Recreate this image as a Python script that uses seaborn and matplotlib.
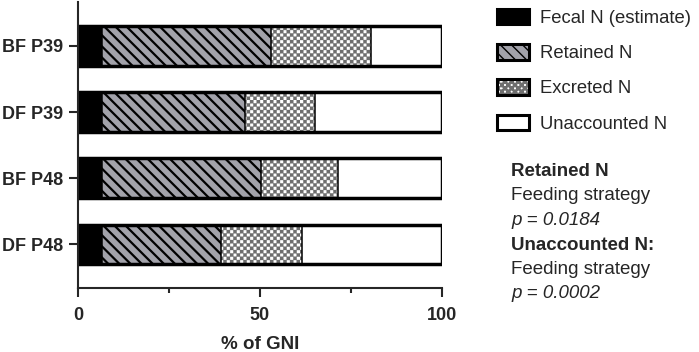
import warnings
import numpy as np
import matplotlib
matplotlib.use("Agg")
import matplotlib.pyplot as plt
import matplotlib.hatch as mhatch
from matplotlib.patches import Patch
from matplotlib.path import Path
import seaborn as sns

warnings.filterwarnings("ignore")

# Nitrogen balance per group, % of GNI
groups = ["BF P39", "DF P39", "BF P48", "DF P48"]
fecal = [6.7, 6.7, 6.7, 6.7]
retained = [46.4, 39.1, 43.5, 32.7]
excreted = [27.3, 19.2, 21.2, 22.2]
unaccounted = [19.6, 35.0, 28.6, 38.4]
segment_names = ["Fecal N (estimate)", "Retained N", "Excreted N", "Unaccounted N"]
x_ticks = [0, 50, 100]
x_minor = [25, 75]

stats_lines = [
    ("Retained N", "bold", "normal"),
    ("Feeding strategy", "normal", "normal"),
    ("p = 0.0184", "normal", "italic"),
    ("Unaccounted N:", "bold", "normal"),
    ("Feeding strategy", "normal", "normal"),
    ("p = 0.0002", "normal", "italic"),
]


class CheckerHatch(mhatch.HatchPatternBase):
    """Checkerboard hatch, selected with 'c' in the hatch string."""

    def __init__(self, hatch, density):
        self.n = hatch.count("c") * density
        if self.n % 2:
            self.n += 1
        self.num_vertices = (self.n * self.n // 2) * 5

    def set_vertices_and_codes(self, vertices, codes):
        step = 1.0 / self.n
        k = 0
        for i in range(self.n):
            for j in range(self.n):
                if (i + j) % 2:
                    continue
                x0, y0 = i * step, j * step
                vertices[k:k + 5] = [(x0, y0), (x0 + step, y0), (x0 + step, y0 + step),
                                     (x0, y0 + step), (x0, y0)]
                codes[k:k + 5] = [Path.MOVETO, Path.LINETO, Path.LINETO,
                                  Path.LINETO, Path.CLOSEPOLY]
                k += 5


mhatch._hatch_types.append(CheckerHatch)

sns.set_style("ticks")
plt.rcParams["font.family"] = ["Liberation Sans", "DejaVu Sans"]
plt.rcParams["font.size"] = 13

# fill style per segment: face, hatch colour, hatch, hatch linewidth
styles = {
    "Fecal N (estimate)": ("black", "black", None, 1.0),
    "Retained N": ("#a2a2aa", "black", "\\\\\\", 1.6),
    "Excreted N": ("white", "#6e6e6e", "ccccc", 0.2),
    "Unaccounted N": ("white", "white", None, 1.0),
}


def set_hatch_lw(patches, lw):
    for p in patches:
        if hasattr(p, "set_hatch_linewidth"):
            p.set_hatch_linewidth(lw)


fig = plt.figure(figsize=(6.99, 3.52), dpi=100)
ax = fig.add_axes([78 / 699, 64 / 352, 364 / 699, 286 / 352])

segments = np.array([fecal, retained, excreted, unaccounted])
cum = np.cumsum(segments, axis=0)
bar_w = 0.6

# fills, widest first so the shorter cumulative bars sit on top
for k in range(3, -1, -1):
    face, hcol, hatch, hlw = styles[segment_names[k]]
    n0 = len(ax.patches)
    sns.barplot(x=cum[k], y=groups, orient="h", color=face, saturation=1,
                edgecolor=hcol, linewidth=0, hatch=hatch, width=bar_w, ax=ax)
    set_hatch_lw(ax.patches[n0:], hlw)

# segment boundaries and outer frame
for k in range(3):
    sns.barplot(x=cum[k], y=groups, orient="h", fill=False, color="black",
                linewidth=1.1, width=bar_w, ax=ax)
sns.barplot(x=cum[3], y=groups, orient="h", fill=False, color="black",
            linewidth=2.5, width=bar_w, ax=ax)

ax.set_xlim(0, 100)
ax.set_ylim(3.66, -0.665)
ax.set_xticks(x_ticks)
ax.set_xticks(x_minor, minor=True)
ax.set_xlabel("% of GNI", fontweight="bold", fontsize=13.5, labelpad=8)
ax.set_ylabel("")
for lab in ax.get_xticklabels() + ax.get_yticklabels():
    lab.set_fontweight("bold")
ax.tick_params(axis="both", which="major", length=6.5, width=1.5, labelsize=13)
ax.tick_params(axis="x", which="major", pad=7.5)
ax.tick_params(axis="y", which="major", pad=4.5)
ax.tick_params(axis="x", which="minor", length=3.5, width=1.5)
sns.despine(ax=ax)
for side in ["left", "bottom"]:
    ax.spines[side].set_linewidth(1.5)

# legend
handles = []
for name in segment_names:
    face, hcol, hatch, hlw = styles[name]
    fill_patch = Patch(facecolor=face, edgecolor=hcol, linewidth=0, hatch=hatch)
    set_hatch_lw([fill_patch], hlw)
    frame = Patch(facecolor="none", edgecolor="black", linewidth=2.2)
    handles.append((fill_patch, frame))
fig.legend(handles, segment_names, loc="upper left", bbox_to_anchor=(497 / 699, 1 - 9 / 352),
           frameon=False, borderpad=0, borderaxespad=0, handlelength=1.75,
           handleheight=0.9, handletextpad=0.6, labelspacing=0.93, fontsize=13.3)

baselines = [176, 200.5, 225, 249.5, 274, 298.5]
for (txt, weight, style), yb in zip(stats_lines, baselines):
    fig.text(511 / 699, 1 - yb / 352, txt, fontsize=13.5, fontweight=weight,
             fontstyle=style, va="baseline", ha="left")

fig.savefig("out.png", dpi=100)
